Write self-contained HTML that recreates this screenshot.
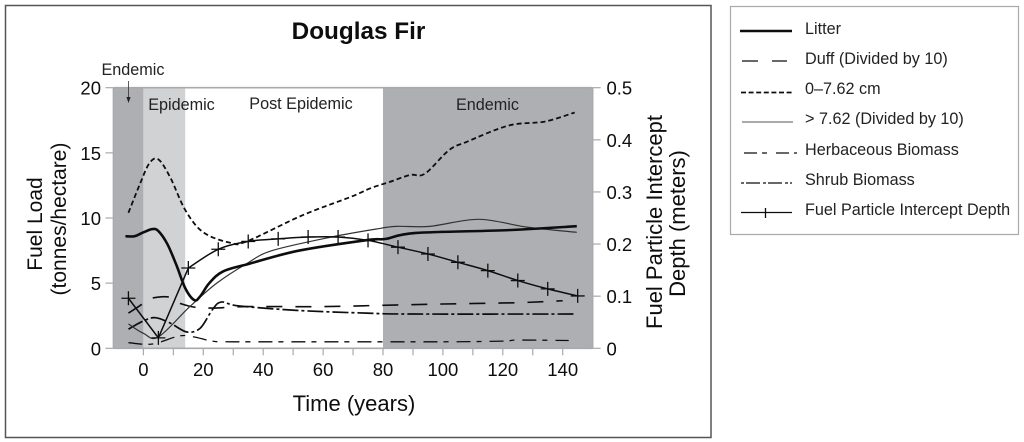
<!DOCTYPE html>
<html lang="en"><head><meta charset="utf-8"><title>Douglas Fir</title>
<style>
html,body{margin:0;padding:0;background:#fff;width:1024px;height:442px;overflow:hidden}
svg{display:block;font-family:"Liberation Sans",sans-serif}
</style></head>
<body>
<svg id="chart" width="1024" height="442" viewBox="0 0 1024 442" xmlns="http://www.w3.org/2000/svg">
<defs><filter id="soft" x="-2%" y="-2%" width="104%" height="104%"><feGaussianBlur stdDeviation="0.35"/></filter></defs>
<rect width="1024" height="442" fill="#fff"/>
<g id="root" filter="url(#soft)">
<rect x="5.5" y="5.5" width="705.5" height="432" fill="#fff" stroke="#555" stroke-width="1.5"/>
<text x="358.500" y="39" font-size="24.3" font-weight="bold" text-anchor="middle" fill="#111">Douglas Fir</text>
<g id="bands"></g>
<g id="axes"></g>
<g id="series"></g>
<text x="133" y="75" font-size="16.2" text-anchor="middle" fill="#222">Endemic</text>
<path d="M128.5 81V99" stroke="#333" stroke-width="0.8" fill="none"/>
<path d="M126.4 97L130.6 97L128.5 103Z" fill="#222"/>
<text x="181.5" y="110" font-size="16.2" text-anchor="middle" fill="#222">Epidemic</text>
<text x="301" y="109" font-size="16.2" text-anchor="middle" fill="#222">Post Epidemic</text>
<text x="487.5" y="110" font-size="16.2" text-anchor="middle" fill="#222">Endemic</text>
<text transform="translate(42,224) rotate(-90)" font-size="21" text-anchor="middle" fill="#111">Fuel Load</text>
<text transform="translate(66,219) rotate(-90)" font-size="21" text-anchor="middle" fill="#111">(tonnes/hectare)</text>
<text transform="translate(662,222) rotate(-90)" font-size="22" text-anchor="middle" fill="#111">Fuel Particle Intercept</text>
<text transform="translate(685,223.500) rotate(-90)" font-size="22" text-anchor="middle" fill="#111">Depth (meters)</text>
<text x="354" y="411" font-size="22" text-anchor="middle" fill="#111">Time (years)</text>
<g>
<rect x="730.5" y="6.5" width="288" height="228" fill="#fff" stroke="#aaa" stroke-width="1.2"/>
<g><path d="M740 31H792" stroke="#111" stroke-width="2.4"/><text x="805" y="34" font-size="16.2" fill="#222">Litter</text></g>
<g><path d="M742 61H787" stroke="#111" stroke-width="1.3" stroke-dasharray="16 14"/><text x="805" y="64" font-size="16.2" fill="#222">Duff (Divided by 10)</text></g>
<g><path d="M741 92.500H793" stroke="#111" stroke-width="1.8" stroke-dasharray="5 2.600"/><text x="805" y="94" font-size="16.2" fill="#222">0–7.62 cm</text></g>
<g><path d="M742 122H793" stroke="#777" stroke-width="1.3"/><text x="805" y="124" font-size="16.2" fill="#222">&gt; 7.62 (Divided by 10)</text></g>
<g><path d="M744 153H797" stroke="#111" stroke-width="1.3" stroke-dasharray="13 5 5 9"/><text x="805" y="155" font-size="16.2" fill="#222">Herbaceous Biomass</text></g>
<g><path d="M741 183H792" stroke="#111" stroke-width="1.3" stroke-dasharray="3 2 14 3 3 2 14 3"/><text x="805" y="185" font-size="16.2" fill="#222">Shrub Biomass</text></g>
<g><path d="M741 212.500H792M765.500 208V218" stroke="#111" stroke-width="1.3" fill="none"/><text x="805" y="215" font-size="16.2" fill="#222">Fuel Particle Intercept Depth</text></g>
</g>
</g>
</svg>
<script>
const xTicks = [0, 20, 40, 60, 80, 100, 120, 140];
const xMinorTicks = [10, 30, 50, 70, 90, 110, 130];
const leftTicks = [0, 5, 10, 15, 20];
const rightTicks = [0, 0.1, 0.2, 0.3, 0.4, 0.5];
const periodStarts = [-10, 0, 14, 80];
const periodEnds = [0, 14, 80, 150];
const periodFills = ['#aeafb3', '#d1d2d4', '#ffffff', '#aeafb3'];

const litterYears = [-6, -3, 0, 3, 5, 8, 11, 14, 17, 19, 22, 26.6, 35.5, 52, 74.5, 81, 91, 122, 144.7];
const litterValues = [8.6, 8.6, 8.9, 9.15, 9.0, 8.0, 6.4, 4.6, 3.7, 4.0, 5.0, 5.9, 6.5, 7.5, 8.3, 8.4, 8.85, 9.07, 9.37];

const duffYears = [-5, -1, 2, 8, 11, 16, 20, 25, 35, 60, 80, 100, 125, 140];
const duffValues = [2.7, 3.3, 3.8, 3.95, 3.55, 3.2, 3.1, 3.1, 3.2, 3.2, 3.3, 3.4, 3.5, 3.65];

const fineYears = [-5, -1, 2, 5, 9, 14, 20, 29, 34.5, 53, 69, 76, 82, 89, 94, 102, 108, 122, 134, 144];
const fineValues = [10.4, 12.7, 14.2, 14.5, 13.1, 10.6, 8.9, 8.1, 8.2, 10.2, 11.6, 12.3, 12.75, 13.3, 13.4, 15.2, 15.85, 17.1, 17.4, 18.1];

const coarseYears = [-5, 0, 5, 15.5, 24.5, 34.5, 43, 63, 79, 84.6, 95.7, 112, 128, 144.7];
const coarseValues = [1.87, 1.15, 0.87, 3.2, 5, 6.5, 7.5, 8.55, 9.2, 9.36, 9.36, 9.9, 9.3, 8.9];

const herbYears = [-5, 3, 12, 17, 23, 30, 60, 100, 120, 125, 142];
const herbValues = [0.43, 0.33, 0.95, 0.87, 0.55, 0.5, 0.5, 0.5, 0.55, 0.63, 0.6];

const shrubYears = [-5, 0, 4, 9, 14.5, 19, 23, 26, 32, 52, 74.5, 90, 144];
const shrubValues = [1.47, 2.1, 2.35, 1.93, 1.25, 1.55, 2.95, 3.55, 3.25, 2.9, 2.7, 2.63, 2.63];

const depthYears = [-5, 5, 15, 25, 35, 45, 55, 65, 75, 85, 95, 105, 115, 125, 135, 145];
const depthValues = [0.096, 0.02, 0.154, 0.19, 0.205, 0.21, 0.2135, 0.2135, 0.207, 0.194, 0.181, 0.165, 0.149, 0.13, 0.114, 0.1005];

const xScale = v => 143.4 + v * 2.995;
const yLeft = v => 348.3 - v * 13.03;
const yRight = v => 348.3 - v * 521.2;
const NS = 'http://www.w3.org/2000/svg';

function make(parent, tag, attrs, text) {
  const el = document.createElementNS(NS, tag);
  for (const k in attrs) el.setAttribute(k, attrs[k]);
  if (text !== undefined) el.textContent = text;
  parent.appendChild(el);
  return el;
}

function smoothSegment(pts) {
  let d = '';
  for (let i = 0; i < pts.length - 1; i++) {
    const p0 = pts[Math.max(i - 1, 0)], p1 = pts[i], p2 = pts[i + 1], p3 = pts[Math.min(i + 2, pts.length - 1)];
    const c1x = p1[0] + (p2[0] - p0[0]) / 6, c1y = p1[1] + (p2[1] - p0[1]) / 6;
    const c2x = p2[0] - (p3[0] - p1[0]) / 6, c2y = p2[1] - (p3[1] - p1[1]) / 6;
    d += 'C' + c1x.toFixed(2) + ' ' + c1y.toFixed(2) + ' ' + c2x.toFixed(2) + ' ' + c2y.toFixed(2) + ' ' + p2[0].toFixed(2) + ' ' + p2[1].toFixed(2);
  }
  return d;
}

function smoothPath(years, values, yFn) {
  const pts = years.map((t, i) => [xScale(t), yFn(values[i])]);
  return 'M' + pts[0][0].toFixed(2) + ' ' + pts[0][1].toFixed(2) + smoothSegment(pts);
}

const bands = document.getElementById('bands');
const axes = document.getElementById('axes');
const series = document.getElementById('series');
const bandNames = ['endemic-band-early', 'epidemic-band', 'post-epidemic-band', 'endemic-band-late'];

periodStarts.forEach((s, i) => {
  const r = make(bands, 'rect', {x: xScale(s), y: yLeft(20), width: xScale(periodEnds[i]) - xScale(s), height: yLeft(0) - yLeft(20), fill: periodFills[i]});
  
  
});

const AXIS = '#a9aaad';
const plotL = xScale(-10), plotR = xScale(150);
const frameLine = make(axes, 'path', {d: 'M' + plotL + ' ' + yLeft(20) + 'H' + plotR + 'M' + plotL + ' ' + yLeft(0) + 'H' + plotR + 'M' + plotL + ' ' + yLeft(0) + 'V' + yLeft(20) + 'M' + plotR + ' ' + yLeft(0) + 'V' + yLeft(20), stroke: AXIS, 'stroke-width': 1.6, fill: 'none'});



xTicks.forEach(t => {
  const l = make(axes, 'line', {x1: xScale(t), x2: xScale(t), y1: yLeft(0), y2: yLeft(0) + 7, stroke: AXIS, 'stroke-width': 1.2});
  
  
  const n = make(axes, 'text', {x: xScale(t), y: 376, 'font-size': 18.5, 'text-anchor': 'middle', fill: '#111'}, String(t));
  
  
});
xMinorTicks.forEach(t => {
  const l = make(axes, 'line', {x1: xScale(t), x2: xScale(t), y1: yLeft(0), y2: yLeft(0) + 7, stroke: AXIS, 'stroke-width': 1.2});
  
  
});
leftTicks.forEach(t => {
  const l = make(axes, 'line', {x1: plotL - 8, x2: plotL, y1: yLeft(t), y2: yLeft(t), stroke: AXIS, 'stroke-width': 1.2});
  
  
  const n = make(axes, 'text', {x: 101, y: yLeft(t) + 7, 'font-size': 18.5, 'text-anchor': 'end', fill: '#111'}, String(t));
  
  
});
rightTicks.forEach(t => {
  const l = make(axes, 'line', {x1: plotR, x2: plotR + 8, y1: yRight(t), y2: yRight(t), stroke: AXIS, 'stroke-width': 1.2});
  
  
  const n = make(axes, 'text', {x: 606.5, y: yRight(t) + 7, 'font-size': 18.5, fill: '#111'}, String(t));
  
  
});

const shrubLine = make(series, 'path', {d: smoothPath(shrubYears, shrubValues, yLeft), fill: 'none', stroke: '#111', 'stroke-width': 1.7, 'stroke-dasharray': '16 3 3 3'});



const herbLine = make(series, 'path', {d: smoothPath(herbYears, herbValues, yLeft), fill: 'none', stroke: '#111', 'stroke-width': 1.3, 'stroke-dasharray': '14 6 5 8'});



const duffLine = make(series, 'path', {d: smoothPath(duffYears, duffValues, yLeft), fill: 'none', stroke: '#111', 'stroke-width': 1.6, 'stroke-dasharray': '16 13'});



const coarseLine = make(series, 'path', {d: smoothPath(coarseYears, coarseValues, yLeft), fill: 'none', stroke: '#333', 'stroke-width': 1.2});



const fineLine = make(series, 'path', {d: smoothPath(fineYears, fineValues, yLeft), fill: 'none', stroke: '#111', 'stroke-width': 1.8, 'stroke-dasharray': '5 3'});



const litterLine = make(series, 'path', {d: smoothPath(litterYears, litterValues, yLeft), fill: 'none', stroke: '#111', 'stroke-width': 2.6});



// Intercept depth: sharp V over the first three points, smooth afterwards.
const depthPts = depthYears.map((t, i) => [xScale(t), yRight(depthValues[i])]);
const depthD = 'M' + depthPts[0].join(' ') + 'L' + depthPts[1].join(' ') + 'L' + depthPts[2].join(' ') + smoothSegment(depthPts.slice(2));
const depthLine = make(series, 'path', {d: depthD, fill: 'none', stroke: '#111', 'stroke-width': 1.5});



depthPts.forEach(p => {
  const m = make(series, 'path', {d: 'M' + (p[0] - 7) + ' ' + p[1] + 'H' + (p[0] + 7) + 'M' + p[0] + ' ' + (p[1] - 7) + 'V' + (p[1] + 7), stroke: '#111', 'stroke-width': 1.3, fill: 'none'});
  
  
});
</script>
</body></html>
